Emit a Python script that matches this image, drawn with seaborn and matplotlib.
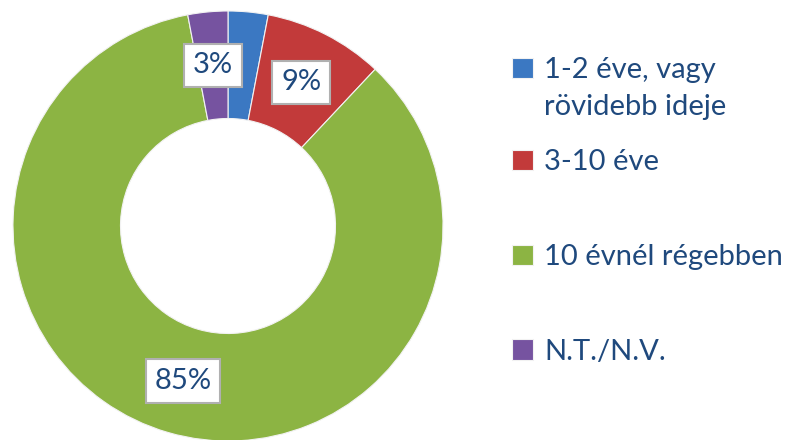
import numpy as np
import matplotlib
matplotlib.use("Agg")
import matplotlib.pyplot as plt
import matplotlib.patches as mpatches
import seaborn as sns

categories = ["1-2 éve, vagy\nrövidebb ideje", "3-10 éve", "10 évnél régebben", "N.T./N.V."]
values = [3, 9, 85, 3]
# the label of the first slice is hidden under the purple one in the original
show_label = [False, True, True, True]
colors = ["#3B78C2", "#C23A3A", "#8CB443", "#7653A0"]
text_color = "#1F497D"


def main():
    sns.set_theme(style="white")
    plt.rcParams["font.family"] = ["Lato", "DejaVu Sans"]

    fig = plt.figure(figsize=(7.91, 4.40), dpi=100)
    ax = fig.add_axes([13 / 791, -1 / 440, 430 / 791, 430 / 440])

    wedges, _ = ax.pie(values, colors=colors, startangle=90, counterclock=False,
                       radius=1.0,
                       wedgeprops=dict(width=0.5, edgecolor="#f2f2f2", linewidth=0.8))
    ax.set_xlim(-1, 1)
    ax.set_ylim(-1, 1)
    ax.set_aspect("equal")
    for w in wedges:
        w.set_clip_on(False)

    total = sum(values)
    for w, v, show in zip(wedges, values, show_label):
        if not show:
            continue
        mid = np.deg2rad((w.theta1 + w.theta2) / 2)
        ax.text(0.75 * np.cos(mid), 0.75 * np.sin(mid), f"{round(100 * v / total)}%",
                ha="center", va="center", fontsize=21, color=text_color,
                bbox=dict(boxstyle="square,pad=0.3", facecolor="white",
                          edgecolor="#b0b0b0", linewidth=1.5))

    legend_kw = dict(loc="upper left", frameon=False, fontsize=21, labelcolor=text_color,
                     handlelength=0.7, handleheight=0.7, handletextpad=0.4)

    # first entry wraps onto two lines, marker sits on the first line
    first_lines = categories[0].split("\n")
    blank = mpatches.Patch(alpha=0)
    fig.legend([wedges[0], blank], first_lines, bbox_to_anchor=(486 / 791, 1 - 31 / 440),
               labelspacing=0.36, **legend_kw)
    fig.legend(wedges[1:], categories[1:], bbox_to_anchor=(486 / 791, 1 - 123 / 440),
               labelspacing=2.36, **legend_kw)

    fig.savefig("out.png", dpi=100)


if __name__ == "__main__":
    main()
